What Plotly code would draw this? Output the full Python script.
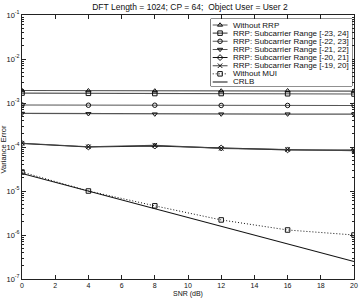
import plotly.graph_objects as go

snr = [0, 4, 8, 12, 16, 20]
without_rrp = [1.92e-3, 1.9e-3, 1.88e-3, 1.88e-3, 1.9e-3, 1.86e-3]
rrp_23_24 = [1.68e-3, 1.66e-3, 1.64e-3, 1.64e-3, 1.62e-3, 1.6e-3]
rrp_22_23 = [9.0e-4, 8.9e-4, 8.9e-4, 8.8e-4, 8.8e-4, 8.8e-4]
rrp_21_22 = [5.8e-4, 5.7e-4, 5.6e-4, 5.6e-4, 5.6e-4, 5.6e-4]
rrp_20_21 = [1.2e-4, 1.0e-4, 1.05e-4, 9.5e-5, 8.6e-5, 8.5e-5]
rrp_19_20 = [1.22e-4, 1.01e-4, 1.1e-4, 9.3e-5, 8.8e-5, 8.2e-5]
without_mui = [2.7e-5, 1.0e-5, 4.6e-6, 2.2e-6, 1.3e-6, 1.0e-6]
crlb = [2.5e-5, 1.0e-5, 4.0e-6, 1.6e-6, 6.3e-7, 2.5e-7]

names = ["Without RRP", "RRP: Subcarrier Range [-23, 24]", "RRP: Subcarrier Range [-22, 23]",
         "RRP: Subcarrier Range [-21, 22]", "RRP: Subcarrier Range [-20, 21]",
         "RRP: Subcarrier Range [-19, 20]", "Without MUI", "CRLB"]
series = [without_rrp, rrp_23_24, rrp_22_23, rrp_21_22, rrp_20_21, rrp_19_20, without_mui, crlb]
symbols = ["triangle-up-open", "square-open", "circle-open", "triangle-down-open",
           "diamond-open", "x-thin-open", "square-open", None]
colors = ["#555", "#555", "#555", "#555", "#111", "#444", "#111", "#111"]
dashes = ["solid"] * 6 + ["1px,2px", "solid"]

ytickvals = [1e-7, 1e-6, 1e-5, 1e-4, 1e-3, 1e-2, 1e-1]
yticktext = ["10<sup>-7</sup>", "10<sup>-6</sup>", "10<sup>-5</sup>", "10<sup>-4</sup>",
             "10<sup>-3</sup>", "10<sup>-2</sup>", "10<sup>-1</sup>"]
xtickvals = [0, 2, 4, 6, 8, 10, 12, 14, 16, 18, 20]

FONT = "Arial, Liberation Sans, sans-serif"
fig = go.Figure()

for name, ys, sym, col, dash in zip(names, series, symbols, colors, dashes):
    fig.add_trace(go.Scatter(
        x=snr, y=ys, mode="lines+markers" if sym else "lines", name=name,
        line=dict(color=col, width=1 if dash != "solid" else 1.1, dash=dash),
        marker=dict(symbol=sym or "circle", size=4.5, color="#111",
                    line=dict(color="#111", width=1)),
        showlegend=False, xaxis="x", yaxis="y"))

# custom legend in an overlay axis
n = len(names)
for i, (name, sym, col, dash) in enumerate(zip(names, symbols, colors, dashes)):
    yy = 0.91 - i * (0.85 / (n - 1))
    fig.add_trace(go.Scatter(x=[0.014, 0.119], y=[yy, yy], mode="lines",
                             line=dict(color=col, width=1 if dash != "solid" else 1.1, dash=dash),
                             showlegend=False, xaxis="x2", yaxis="y2", hoverinfo="skip"))
    if sym:
        fig.add_trace(go.Scatter(x=[0.066], y=[yy], mode="markers",
                                 marker=dict(symbol=sym, size=4.5, color="#111",
                                             line=dict(color="#111", width=1)),
                                 showlegend=False, xaxis="x2", yaxis="y2", hoverinfo="skip"))
    fig.add_annotation(x=0.147, y=yy, xref="x2", yref="y2", text=name, showarrow=False,
                       xanchor="left", yanchor="middle", font=dict(size=8, family=FONT, color="#111"))

fig.add_shape(type="rect", xref="x2 domain", yref="y2 domain", x0=0, x1=1, y0=0, y1=1,
              line=dict(color="#222", width=1), fillcolor="white", layer="below")

axis_common = dict(showline=True, linecolor="#222", linewidth=1, mirror="ticks",
                   ticks="inside", tickcolor="#222", showgrid=False, zeroline=False)

B, T = 20, 15
PH = 299 - B - T
fig.update_layout(
    width=363, height=299,
    margin=dict(l=22, r=5, t=T, b=B),
    paper_bgcolor="white", plot_bgcolor="white",
    title=dict(text="DFT Length = 1024; CP = 64;  Object User = User 2",
               x=(22 + 358) / 2 / 363, xanchor="center", y=1 - 7 / 299, yanchor="middle",
               font=dict(size=8.5, family=FONT, color="#111")),
    xaxis=dict(range=[0, 20], tickvals=xtickvals, ticklen=4, ticklabelstandoff=0,
               tickfont=dict(size=7, family=FONT, color="#111"), **axis_common),
    yaxis=dict(type="log", range=[-7, -1], tickvals=ytickvals, ticktext=yticktext, ticklen=4,
               tickfont=dict(size=7.5, family=FONT, color="#111"),
               minor=dict(ticks="inside", ticklen=2, tickcolor="#222",
                          tickvals=[m * 10 ** e for e in range(-7, -1) for m in range(2, 10)]),
               **axis_common),
    xaxis2=dict(domain=[(213 - 22) / 336, (356 - 22) / 336], range=[0, 1], visible=False,
                anchor="y2", fixedrange=True),
    yaxis2=dict(domain=[(299 - B - 86) / PH, (299 - B - 19) / PH], range=[0, 1], visible=False,
                anchor="x2", fixedrange=True),
    showlegend=False,
)

fig.add_annotation(text="Variance Error", xref="paper", yref="paper", x=-0.055, y=0.49,
                   textangle=-90, showarrow=False, xanchor="center", yanchor="middle",
                   font=dict(size=7.5, family=FONT, color="#111"))
fig.add_annotation(text="SNR (dB)", xref="paper", yref="paper", x=0.5, y=-B / PH,
                   showarrow=False, xanchor="center", yanchor="bottom", borderpad=0,
                   font=dict(size=7, family=FONT, color="#111"))

fig.write_html("out.html")
